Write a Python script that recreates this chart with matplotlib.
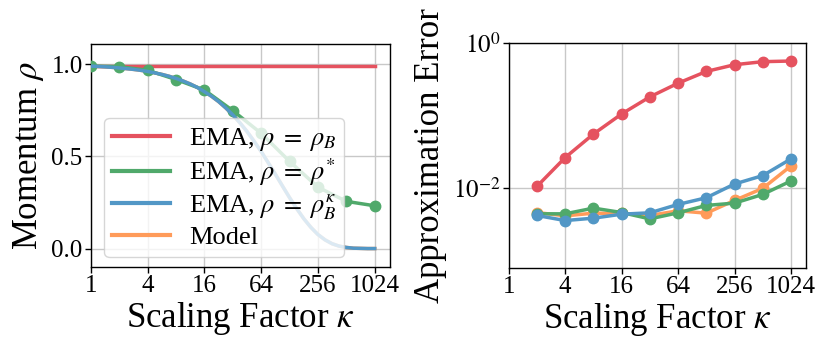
import matplotlib
matplotlib.use("Agg")
import matplotlib.pyplot as plt
from matplotlib.lines import Line2D

plt.rcParams['font.family'] = ['Liberation Serif', 'DejaVu Serif']
plt.rcParams['mathtext.fontset'] = 'stix'

# ---------- data ----------
kappa_pts = [1, 2, 4, 8, 16, 32, 64, 128, 256, 512, 1024]
rho_B_line = [0.99] * 11
rho_star = [0.99, 0.987, 0.967, 0.917, 0.86, 0.748, 0.625, 0.473, 0.333, 0.256, 0.232]

kappa_curve_exp = [k / 4 for k in range(41)]  # log2 kappa grid
rho_B_kappa = [0.990, 0.988, 0.986, 0.983, 0.980, 0.976, 0.972, 0.967, 0.961, 0.953,
               0.945, 0.935, 0.923, 0.909, 0.893, 0.874, 0.851, 0.826, 0.797, 0.763,
               0.725, 0.682, 0.635, 0.582, 0.526, 0.465, 0.403, 0.339, 0.276, 0.217,
               0.162, 0.115, 0.076, 0.047, 0.026, 0.013, 0.006, 0.002, 0.001, 0.000, 0.000]

kappa_err = [2, 4, 8, 16, 32, 64, 128, 256, 512, 1024]
log_err_red = [-1.981, -1.583, -1.259, -0.981, -0.745, -0.556, -0.394, -0.301, -0.259, -0.250]
log_err_orange = [-2.343, -2.389, -2.352, -2.356, -2.384, -2.319, -2.352, -2.176, -2.009, -1.699]
log_err_green = [-2.361, -2.361, -2.282, -2.343, -2.431, -2.347, -2.245, -2.213, -2.093, -1.907]
log_err_blue = [-2.384, -2.454, -2.421, -2.366, -2.347, -2.231, -2.139, -1.949, -1.833, -1.602]

legend_labels = [r'EMA, $\rho\;=\;\rho_B$', r'EMA, $\rho\;=\;\rho^{*}$',
                 r'EMA, $\rho\;=\;\rho_B^{\kappa}$', 'Model']
xticks = [1, 4, 16, 64, 256, 1024]
xticklabels = ['1', '4', '16', '64', '256', '1024']

c_red = '#e5525f'
c_green = '#50a96b'
c_blue = '#5297c6'
c_orange = '#ff9b5a'

# ---------- figure ----------
fig = plt.figure(figsize=(8.3, 3.49), dpi=100)
ax1 = fig.add_axes([0.1096, 0.235, 0.360, 0.639])
ax2 = fig.add_axes([0.613, 0.232, 0.358, 0.645])

kc = [2 ** e for e in kappa_curve_exp]
lw = 2.5
ms = 7.5

ax1.plot(kappa_pts, rho_B_line, color=c_red, lw=lw, zorder=3)
ax1.plot(kappa_pts, rho_star, color=c_green, lw=lw, marker='o', ms=ms, zorder=3)
ax1.plot(kc, rho_B_kappa, color=c_orange, lw=lw, zorder=2)
ax1.plot(kc, rho_B_kappa, color=c_blue, lw=lw, zorder=3)

handles = [Line2D([], [], color=c, lw=3) for c in (c_red, c_green, c_blue, c_orange)]
leg = ax1.legend(handles, legend_labels, loc='lower left',
                 bbox_to_anchor=(0.045, 0.045), fontsize=19, framealpha=0.8,
                 handlelength=2.2, borderpad=0.3, labelspacing=0.15, handletextpad=0.7,
                 borderaxespad=0.0)
leg.set_zorder(5)

ax1.set_xscale('log', base=2)
ax1.set_xlim(1, 2 ** 10.53)
ax1.set_ylim(-0.1, 1.11)
ax1.set_yticks([0.0, 0.5, 1.0])
ax1.set_yticklabels(['0.0', '0.5', '1.0'])
ax1.set_ylabel(r'Momentum $\rho$', fontsize=25)

ax2.plot(kappa_err, [10 ** v for v in log_err_red], color=c_red, lw=lw, marker='o', ms=ms, zorder=3)
ax2.plot(kappa_err, [10 ** v for v in log_err_orange], color=c_orange, lw=lw, marker='o', ms=ms, zorder=3)
ax2.plot(kappa_err, [10 ** v for v in log_err_green], color=c_green, lw=lw, marker='o', ms=ms, zorder=3)
ax2.plot(kappa_err, [10 ** v for v in log_err_blue], color=c_blue, lw=lw, marker='o', ms=ms, zorder=3)
ax2.set_xscale('log', base=2)
ax2.set_yscale('log')
ax2.set_xlim(1, 2 ** 10.53)
ax2.set_ylim(10 ** -3.11, 1.0)
ax2.set_yticks([1e-2, 1e0])
ax2.set_yticklabels([r'$10^{-2}$', r'$10^{0}$'])
ax2.yaxis.set_minor_locator(matplotlib.ticker.NullLocator())
ax2.set_ylabel('Approximation Error', fontsize=25)

for ax in (ax1, ax2):
    ax.set_xticks(xticks)
    ax.set_xticklabels(xticklabels)
    ax.xaxis.set_minor_locator(matplotlib.ticker.NullLocator())
    ax.set_xlabel(r'Scaling Factor $\kappa$', fontsize=25, labelpad=2)
    ax.tick_params(labelsize=18, length=4, width=1, pad=2)
    ax.grid(True, color='#c8c8c8', lw=1.0, zorder=0)
    ax.set_axisbelow(True)
    for s in ax.spines.values():
        s.set_linewidth(1.0)

fig.savefig('out.png', dpi=100)
